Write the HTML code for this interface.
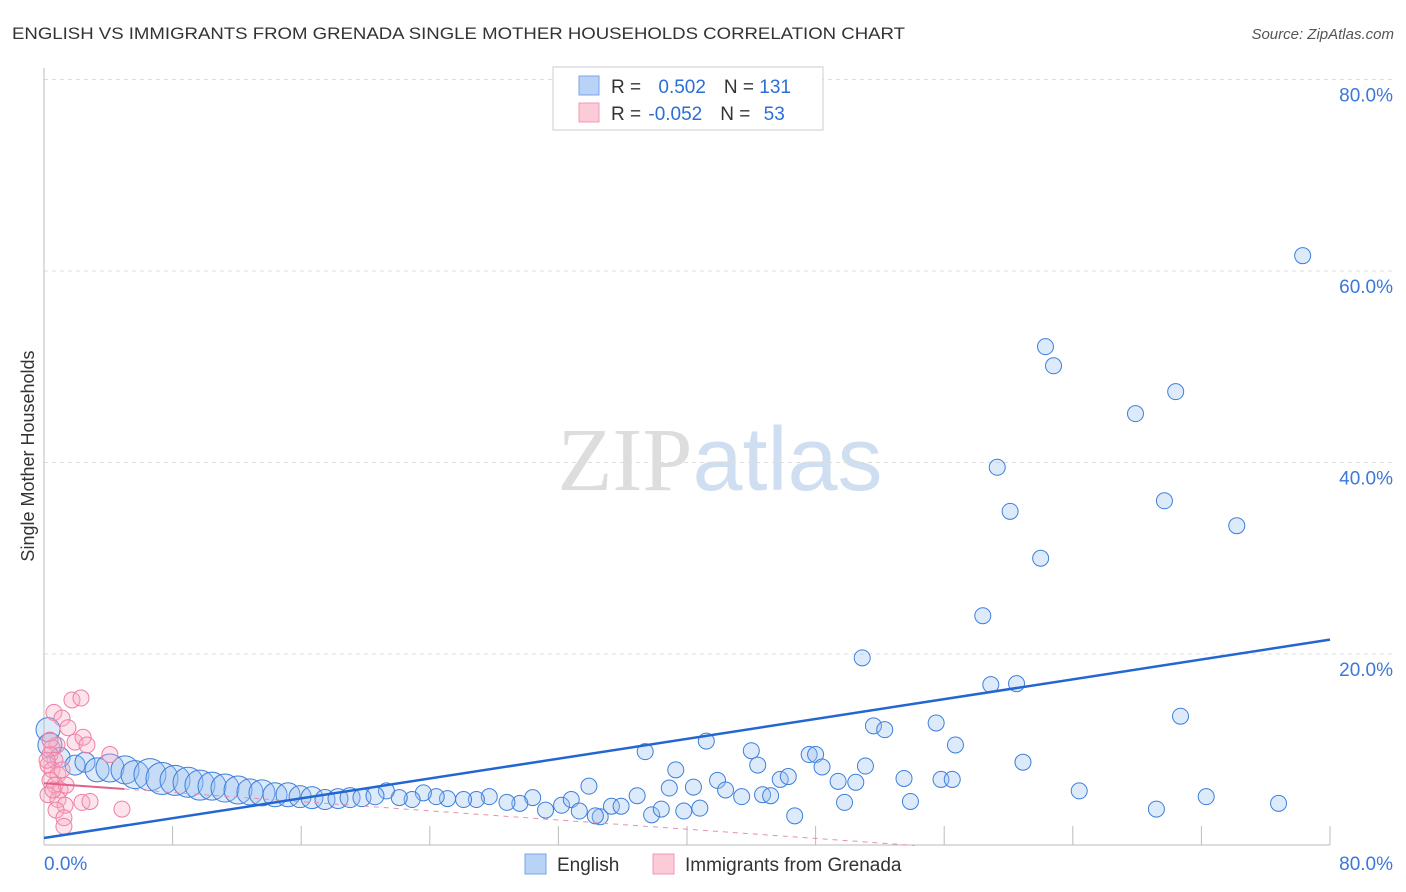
<!DOCTYPE html>
<html><head><meta charset="utf-8"><style>
body{margin:0;background:#fff;font-family:"Liberation Sans",sans-serif}
svg{display:block}
</style></head><body>
<svg id="chart" width="1406" height="892" xmlns="http://www.w3.org/2000/svg" font-family="Liberation Sans, sans-serif">
<text x="12" y="39" font-size="17" fill="#333" textLength="893" lengthAdjust="spacingAndGlyphs">ENGLISH VS IMMIGRANTS FROM GRENADA SINGLE MOTHER HOUSEHOLDS CORRELATION CHART</text>
<text x="1394" y="39" font-size="15" fill="#555" text-anchor="end" font-style="italic">Source: ZipAtlas.com</text>
<text transform="translate(34,456) rotate(-90)" font-size="18" fill="#333" text-anchor="middle">Single Mother Households</text>
<text x="720" y="490" font-size="90" text-anchor="middle"><tspan font-family="Liberation Serif, serif" fill="#ddd">ZIP</tspan><tspan fill="#d0def2">atlas</tspan></text>
<g id="grid"></g><g id="marks"></g>
<g>
<rect x="553" y="67" width="270" height="63" fill="#fff" stroke="#ccc"/>
<rect x="579" y="76" width="20" height="19" fill="#b9d3f7" stroke="#7aa6e8"/>
<rect x="579" y="103" width="20" height="19" fill="#fbcbd8" stroke="#f29ab4"/>
<text x="611" y="93" font-size="19" fill="#333">R = <tspan fill="#2b6fd6" dx="12">0.502</tspan><tspan dx="18" fill="#333">N = </tspan><tspan fill="#2b6fd6">131</tspan></text>
<text x="611" y="120" font-size="19" fill="#333">R = <tspan fill="#2b6fd6" dx="2">-0.052</tspan><tspan dx="18" fill="#333">N = </tspan><tspan fill="#2b6fd6" dx="8">53</tspan></text>
</g>
<g>
<rect x="525" y="854" width="21" height="20" fill="#b9d3f7" stroke="#7aa6e8"/>
<text x="557" y="871" font-size="19" fill="#333">English</text>
<rect x="653" y="854" width="21" height="20" fill="#fbcbd8" stroke="#f29ab4"/>
<text x="685" y="871" font-size="19" fill="#333">Immigrants from Grenada</text>
</g>
</svg>
<script>
const yTicks=[20,40,60,80];
const yTickLabels=["20.0%","40.0%","60.0%","80.0%"];
const xTicks=[0,8,16,24,32,40,48,56,64,72,80];
const engX=[78.3,62.3,62.8,70.4,67.9,59.3,69.7,60.1,74.2,62.0,58.4,50.9,58.9,60.5,70.7,51.6,52.3,55.5,56.7,41.2,37.4,44.0,47.6,48.0,44.4,48.4,51.1,60.9,39.3,40.4,41.9,45.8,46.3,49.4,50.5,53.5,55.8,56.5,33.9,36.9,38.9,42.4,43.4,44.7,45.2,49.8,53.9,64.4,72.3,76.8,69.2,46.7,37.8,34.6,35.3,35.9,38.4,39.8,40.8,34.3,31.2,32.2,32.8,33.3,30.4,29.6,28.8,27.7,26.9,26.1,25.1,24.4,23.6,22.9,22.1,21.3,
0.25,0.37,1.0,1.93,2.55,3.30,4.1,5.04,5.66,6.59,7.34,8.15,8.96,9.70,10.45,11.26,12.07,12.81,13.56,14.37,15.18,15.93,16.67,17.48,18.29,19.04,19.78,20.59];
const engY=[61.6,52.1,50.1,47.4,45.1,39.5,36.0,34.9,33.4,30.0,24.0,19.6,16.8,16.9,13.5,12.5,12.1,12.8,10.5,10.9,9.8,9.9,9.5,9.5,8.4,8.2,8.3,8.7,7.9,6.1,6.8,6.9,7.2,6.7,6.6,7.0,6.9,6.9,6.2,5.2,6.0,5.8,5.1,5.3,5.2,4.5,4.6,5.7,5.1,4.4,3.8,3.1,3.2,3.0,4.1,4.1,3.8,3.6,3.9,3.1,3.7,4.2,4.8,3.6,5.0,4.4,4.5,5.1,4.8,4.8,4.9,5.1,5.5,4.8,5.0,5.7,
12.1,10.5,9.2,8.4,8.7,7.9,8.1,7.9,7.4,7.4,7.0,6.8,6.6,6.3,6.2,6.0,5.8,5.6,5.5,5.3,5.3,5.1,5.0,4.8,4.9,5.0,5.0,5.2];
const engSize=[8,8,8,8,8,8,8,8,8,8,8,8,8,8,8,8,8,8,8,8,8,8,8,8,8,8,8,8,8,8,8,8,8,8,8,8,8,8,8,8,8,8,8,8,8,8,8,8,8,8,8,8,8,8,8,8,8,8,8,8,8,8,8,8,8,8,8,8,8,8,8,8,8,8,8,8,
12,12,10,10,10,12,14,14,14,16,16,15,15,15,14,14,14,13,13,12,12,11,11,10,10,10,9,9];
const grnX=[0.62,1.12,1.74,2.30,1.49,1.93,2.43,0.81,0.50,0.37,0.68,0.25,0.50,0.87,1.12,0.37,0.68,1.0,0.25,0.87,1.31,0.75,1.24,1.24,2.36,2.86,4.85,4.1,2.67,1.37,0.37,0.19,0.56];
const grnY=[13.9,13.3,15.2,15.4,12.3,10.8,11.3,10.5,10.2,9.5,8.9,8.4,7.9,7.4,7.9,6.8,6.3,5.8,5.3,4.8,4.2,3.7,2.9,2.0,4.5,4.6,3.8,9.5,10.5,6.3,11.0,8.9,5.8];
const engLine=[0.78,21.5];
const grnLine=[6.5,-0.12];
const sx=v=>44+v*16.075, sy=v=>845.5-v*9.575;
const NS='http://www.w3.org/2000/svg';
function mk(t,a,p){const e=document.createElementNS(NS,t);for(const k in a)e.setAttribute(k,a[k]);p.appendChild(e);return e;}
const grid=document.getElementById('grid'), marks=document.getElementById('marks');
yTicks.forEach((v,i)=>{
 const l=mk('line',{x1:44,x2:1393,y1:sy(v),y2:sy(v),stroke:'#ddd','stroke-dasharray':'4,4'},grid);
 
 
 const t=mk('text',{x:1393,y:sy(v)+22,'font-size':19,fill:'#3b78d8','text-anchor':'end'},grid);
 t.textContent=yTickLabels[i];
 
 
});
const ax=mk('line',{x1:44,x2:44,y1:68,y2:845,stroke:'#bbb'},grid);


const bx=mk('line',{x1:44,x2:1330,y1:845,y2:845,stroke:'#bbb'},grid);


xTicks.forEach(v=>{
 const l=mk('line',{x1:sx(v),x2:sx(v),y1:826,y2:845,stroke:'#bbb'},grid);
 
 
});
const x0=mk('text',{x:44,y:870,'font-size':19,fill:'#3b78d8'},grid);x0.textContent='0.0%';


const x1=mk('text',{x:1393,y:870,'font-size':19,fill:'#3b78d8','text-anchor':'end'},grid);x1.textContent='80.0%';


engX.forEach((x,i)=>{
 const c=mk('circle',{cx:sx(x),cy:sy(engY[i]),r:engSize[i],fill:'rgba(150,190,240,0.32)',stroke:'#3f7fdc','stroke-width':1},marks);
 
 
});
grnX.forEach((x,i)=>{
 const c=mk('circle',{cx:sx(x),cy:sy(grnY[i]),r:8,fill:'rgba(248,170,195,0.32)',stroke:'#ef7fa2','stroke-width':1},marks);
 
 
});
const gz=-grnLine[0]/grnLine[1];
const gl1=mk('line',{x1:sx(0),y1:sy(grnLine[0]),x2:sx(5),y2:sy(grnLine[0]+grnLine[1]*5),stroke:'#e0608a','stroke-width':2},marks);


const gl2=mk('line',{x1:sx(5),y1:sy(grnLine[0]+grnLine[1]*5),x2:sx(gz),y2:sy(0),stroke:'#e690ad','stroke-width':1,'stroke-dasharray':'5,5'},marks);


const el=mk('line',{x1:sx(0),y1:sy(engLine[0]),x2:sx(80),y2:sy(engLine[1]),stroke:'#2366d1','stroke-width':2.5},marks);


</script>
</body></html>
